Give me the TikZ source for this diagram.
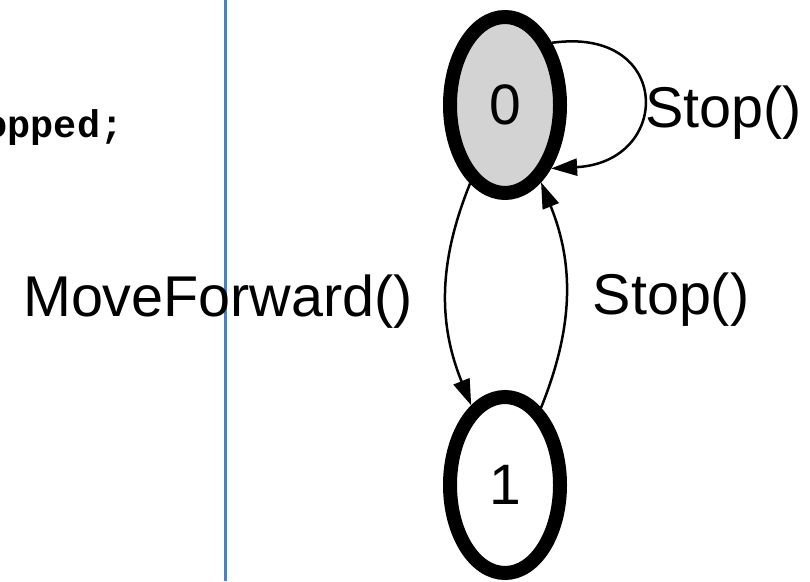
\documentclass[tikz,border=0pt]{standalone}
\usepackage{fontspec}
\setmainfont{Liberation Sans}
\newfontfamily\codefont{Liberation Mono}
\usetikzlibrary{arrows.meta,shapes.geometric}
\definecolor{divider}{RGB}{79,129,189}
\definecolor{startfill}{RGB}{211,211,211}
\begin{document}
\begin{tikzpicture}[x=1pt,y=1pt,
  state/.style={ellipse, draw, line width=14pt, outer sep=7pt,
    minimum width=110pt, minimum height=176pt, inner sep=0pt,
    font=\fontsize{57}{60}\selectfont},
  trans/.style={line width=2.5pt, -{Triangle[length=26pt,width=17pt]}},
  lbl/.style={inner sep=0pt, anchor=base, font=\fontsize{57.5}{60}\selectfont},
  code/.style={inner sep=0pt, anchor=base east,
    font=\codefont\bfseries\fontsize{38.5}{40}\selectfont}]
\useasboundingbox (0,0) rectangle (810,581);
\clip (0,0) rectangle (810,581);

% tail of the code listing on the left
\node[code] (codeline) at (123.5,443) {Stopped;};

% divider between the code and the state machine
\draw[divider, line width=3pt] (225,0) -- (225,581);

% states
\node[state, fill=startfill] (s0) at (505,476) {0};
\node[state] (s1) at (505,96) {1};

% transitions
\draw[trans] (s0.53) .. controls +(8:122) and +(3:122) .. (s0.-54);
\draw[trans] (s0.246) to[out=248, in=112] (s1.113);
\draw[trans] (s1.65) to[out=68, in=-68] (s0.-65);

% transition labels
\node[lbl] (lstop0) at (723.5,453) {Stop()};
\node[lbl] (lmove) at (218,264) {MoveForward()};
\node[lbl] (lstop1) at (671,266) {Stop()};
\end{tikzpicture}
\end{document}
